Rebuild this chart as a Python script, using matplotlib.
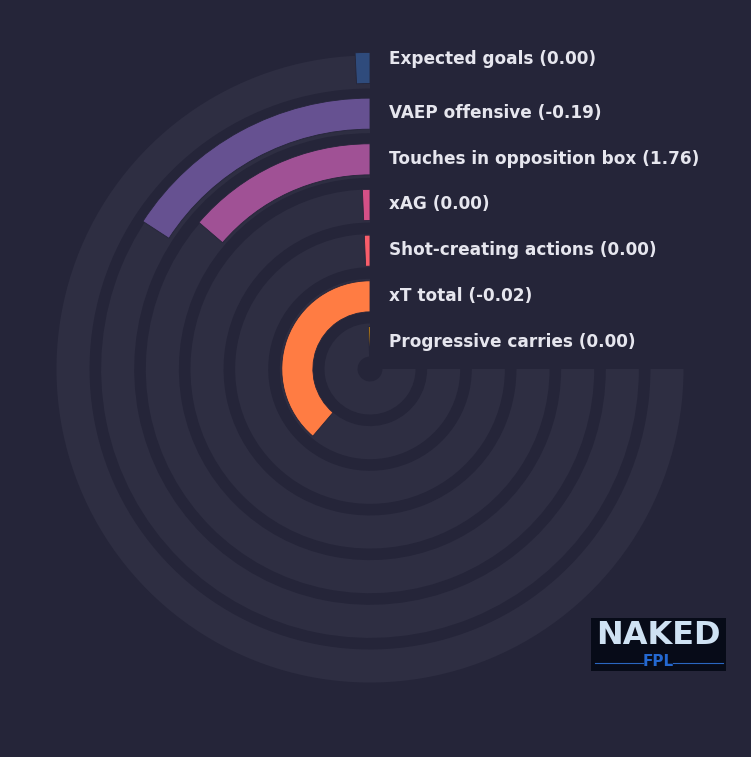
import numpy as np
import matplotlib
matplotlib.use("Agg")
import matplotlib.pyplot as plt
from matplotlib.transforms import offset_copy
from matplotlib.patches import Rectangle
from matplotlib.lines import Line2D

# metrics, outermost ring first
metrics = ["Expected goals", "VAEP offensive", "Touches in opposition box", "xAG",
           "Shot-creating actions", "xT total", "Progressive carries"]
values = [0.00, -0.19, 1.76, 0.00, 0.00, -0.02, 0.00]
# share of the 270 degree track filled by each bar
fill = [0.010, 0.211, 0.183, 0.009, 0.009, 0.517, 0.008]
colors = ["#2f4b7c", "#665191", "#a05195", "#d45087", "#f95d6a", "#ff7c43", "#ffa600"]

bg = "#252539"
track = "#2e2e42"
max_angle = 1.5 * np.pi

fig = plt.figure(figsize=(7.51, 7.57), dpi=100, facecolor=bg)
W, H = 751, 757
cx, cy, R = 370, 369, 340
rect = [(cx - R) / W, (H - cy - R) / H, 2 * R / W, 2 * R / H]


def polar_axes(label, step, r0):
    a = fig.add_axes(rect, projection="polar", label=label)
    a.set_facecolor("none")
    a.set_theta_zero_location("N")
    a.set_theta_direction(1)
    a.set_ylim(r0, r0 + R / step)
    a.set_axis_off()
    return a


# background tracks and bars sit on slightly different radial scales
ax_t = polar_axes("tracks", 44.67, -0.649)
ax = polar_axes("bars", 45.67, -0.591)

n = len(metrics)
radii = np.arange(n)[::-1]  # outermost first
ax_t.barh(radii, [max_angle] * n, left=0, height=0.74, color=track)
ax.barh(radii, np.array(fill) * max_angle, left=0, height=0.68, color=colors,
        edgecolor=bg, linewidth=0.6)

for i, (m, v, r) in enumerate(zip(metrics, values, radii)):
    dy = 9 if i == 0 else 0.5
    tr = offset_copy(ax.transData, fig=fig, x=19, y=dy, units="dots")
    ax.text(0, r, f"{m} ({v:.2f})", transform=tr, ha="left", va="center",
            fontsize=12.2, fontweight="bold", color="#e6e6ee")

# logo
fig.patches.append(Rectangle((591 / W, 1 - 671 / H), 135 / W, 53 / H,
                             transform=fig.transFigure, facecolor="#070b18",
                             edgecolor="none", zorder=5))
fig.text(658 / W, 1 - 635 / H, "NAKED", ha="center", va="center", fontsize=23,
         fontweight="bold", color="#cfe2f3", zorder=6)
fig.text(658 / W, 1 - 662 / H, "FPL", ha="center", va="center", fontsize=11,
         fontweight="bold", color="#2468d0", zorder=6)
for x0, x1 in [(595, 643), (673, 723)]:
    fig.lines.append(Line2D([x0 / W, x1 / W], [1 - 663 / H, 1 - 663 / H],
                            transform=fig.transFigure, color="#2a66c0",
                            linewidth=0.8, zorder=6))

fig.savefig("out.png", dpi=100, facecolor=bg)
